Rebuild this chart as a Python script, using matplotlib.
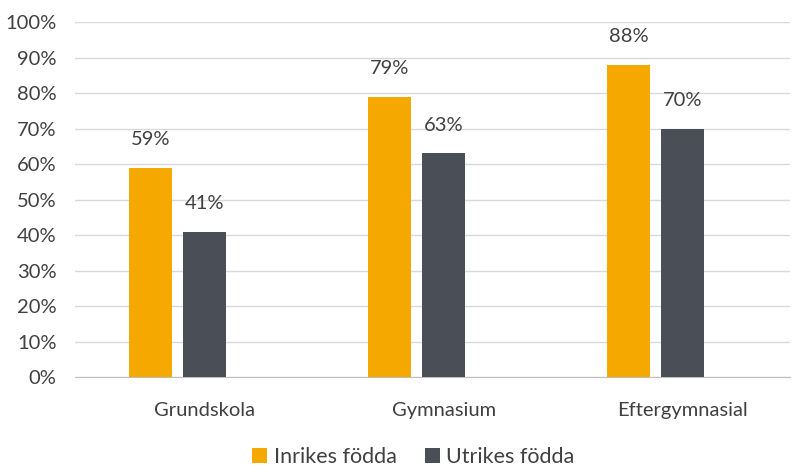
import numpy as np
import matplotlib.pyplot as plt

categories = ["Grundskola", "Gymnasium", "Eftergymnasial"]
inrikes = [59, 79, 88]
utrikes = [41, 63, 70]
series_names = ["Inrikes födda", "Utrikes födda"]

plt.rcParams['font.family'] = ['Lato', 'DejaVu Sans']
fs = 14.5

fig = plt.figure(figsize=(7.95, 4.68), dpi=100)
ax = fig.add_axes([0.094, 0.194, 0.9, 0.759])

x = np.arange(len(categories))
w = 0.18
off = 0.227
b1 = ax.bar(x - off, inrikes, w, color="#F5A800", label=series_names[0], zorder=3)
b2 = ax.bar(x, utrikes, w, color="#4A4F57", label=series_names[1], zorder=3)

for bars in (b1, b2):
    for r in bars:
        ax.text(r.get_x() + r.get_width() / 2, r.get_height() + 5.5,
                f"{r.get_height():.0f}%", ha="center", va="bottom",
                fontsize=fs, color="#404040")

ax.set_ylim(0, 100)
ax.set_yticks(range(0, 101, 10))
ax.set_yticklabels([f"{v}%" for v in range(0, 101, 10)])
ax.set_xlim(-0.543, 2.45)
ax.set_xticks(x)
ax.set_xticklabels(categories)
ax.tick_params(axis="both", length=0, labelsize=fs, colors="#404040")
ax.tick_params(axis="y", pad=13)
ax.tick_params(axis="x", pad=18)
ax.grid(axis="y", color="#D9D9D9", linewidth=1, zorder=0)
for s in ["top", "right", "left"]:
    ax.spines[s].set_visible(False)
ax.spines["bottom"].set_color("#BFBFBF")

fig.legend(handles=[b1, b2], loc="lower center", bbox_to_anchor=(0.52, -0.04),
           ncol=2, frameon=False, fontsize=15.5, handlelength=0.7,
           handleheight=0.7, columnspacing=1.3, handletextpad=0.3,
           labelcolor="#404040")

fig.savefig("out.png", dpi=100)
